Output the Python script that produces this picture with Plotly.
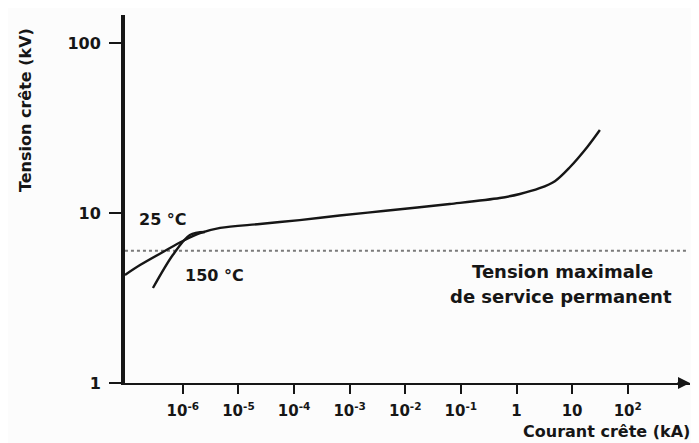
import plotly.graph_objects as go

# --- data ---
current_25 = [9.1e-8, 1.7e-7, 4.4e-7, 1.0e-6, 2.04e-6, 4.7e-6, 2.43e-5, 1.26e-4, 6.6e-4,
              4.0e-3, 6.3e-2, 0.5, 1.15, 2.6, 4.9, 9.1, 18.6, 31.6]
voltage_25 = [4.32, 4.94, 5.90, 6.85, 7.61, 8.17, 8.62, 9.09, 9.67,
              10.28, 11.3, 12.25, 12.94, 14.0, 15.4, 18.6, 24.4, 30.8]

current_150 = [2.9e-7, 6.6e-7, 1.34e-6, 2.5e-6]
voltage_150 = [3.62, 5.66, 7.43, 7.73]

vmax_current = [9.1e-8, 1.2e3]
vmax_voltage = [6.0, 6.0]

x_tickvals = [1e-6, 1e-5, 1e-4, 1e-3, 1e-2, 1e-1, 1, 10, 100]
x_ticktext = ["10<sup>-6</sup>", "10<sup>-5</sup>", "10<sup>-4</sup>", "10<sup>-3</sup>",
              "10<sup>-2</sup>", "10<sup>-1</sup>", "1", "10", "10<sup>2</sup>"]
y_tickvals = [1, 10, 100]
y_ticktext = ["1", "10", "100"]

FONT = "DejaVu Sans"
INK = "#161616"

fig = go.Figure()
fig.add_trace(go.Scatter(x=vmax_current, y=vmax_voltage, mode="lines",
                         line=dict(color="#7a7a7a", width=1.8, dash="dot"),
                         hoverinfo="skip", showlegend=False))
fig.add_trace(go.Scatter(x=current_25, y=voltage_25, mode="lines",
                         line=dict(color=INK, width=2.4, shape="spline", smoothing=0.9),
                         showlegend=False))
fig.add_trace(go.Scatter(x=current_150, y=voltage_150, mode="lines",
                         line=dict(color=INK, width=2.4, shape="spline", smoothing=0.9),
                         showlegend=False))

# the page body has an 8 px margin, so the figure is 8 px smaller
fig.update_layout(
    width=691, height=435,
    margin=dict(l=117, r=9, t=7, b=60),
    paper_bgcolor="#fcfcfc", plot_bgcolor="#fcfcfc",
    font=dict(family=FONT, color=INK),
    xaxis=dict(type="log", range=[-7.04, 3.12], showgrid=False, zeroline=False,
               showline=True, linecolor=INK, linewidth=2,
               tickmode="array", tickvals=x_tickvals, ticktext=x_ticktext,
               ticks="outside", ticklen=9, tickwidth=1.5, tickcolor=INK,
               ticklabelstandoff=4,
               tickfont=dict(family=FONT, size=15, weight="bold", color=INK)),
    yaxis=dict(type="log", range=[0, 2.165], showgrid=False, zeroline=False,
               showline=True, linecolor=INK, linewidth=4,
               tickmode="array", tickvals=y_tickvals, ticktext=y_ticktext,
               ticks="outside", ticklen=12, tickwidth=1.5, tickcolor=INK,
               ticklabelstandoff=5,
               tickfont=dict(family=FONT, size=16, weight="bold", color=INK)),
)

def ann(text, x, y, size=16, angle=0, xanchor="center"):
    fig.add_annotation(text=text, xref="paper", yref="paper", x=x, y=y,
                       showarrow=False, textangle=angle,
                       font=dict(family=FONT, size=size, color=INK, weight="bold"),
                       xanchor=xanchor, yanchor="middle")

ann("25 °C", 0.067, 0.443, size=16)
ann("150 °C", 0.158, 0.293, size=16)
ann("Tension maximale", 0.775, 0.302, size=18)
ann("de service permanent", 0.772, 0.234, size=18)
ann("Courant crête (kA)", 1.003, -0.133, size=16, xanchor="right")
ann("Tension crête (kV)", -0.175, 0.742, size=16, angle=-90)

# arrow head on the x axis
fig.add_annotation(xref="paper", yref="paper", x=1.0, y=0, ax=-14, ay=0,
                   axref="pixel", ayref="pixel", text="", showarrow=True,
                   arrowhead=2, arrowsize=1.2, arrowwidth=2, arrowcolor=INK)

fig.write_html("out.html")
